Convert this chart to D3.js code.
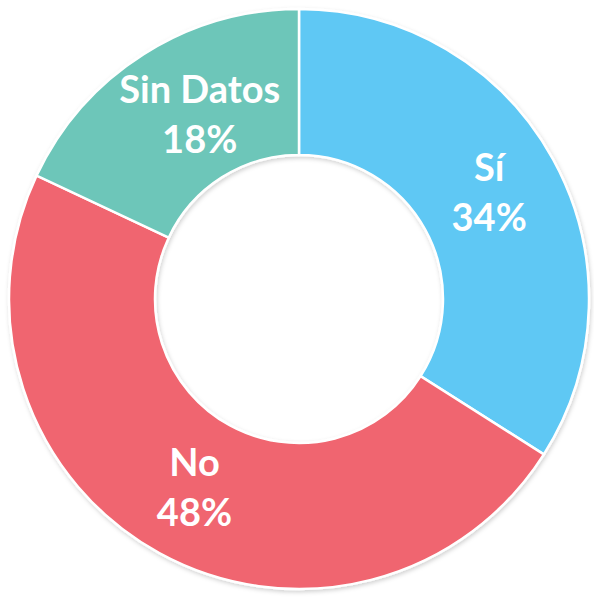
<!DOCTYPE html>
<html>
<head>
<meta charset="utf-8">
<script src="https://cdn.jsdelivr.net/npm/d3@7"></script>
<style>
  html, body { margin: 0; padding: 0; background: #ffffff; }
  svg { display: block; }
</style>
</head>
<body>
<svg id="chart"></svg>
<script>
const categories = ['Sí', 'No', 'Sin Datos'];
const values = [34, 48, 18];
const colors = ['#5ec8f4', '#f0656f', '#6dc6b9'];

const width = 594, height = 597;
const cx = 299, cy = 299;
const outer_radius = 290;
const inner_radius = 144;

const svg = d3.select('#chart')
    .attr('width', width)
    .attr('height', height);

const defs = svg.append('defs');
const shadow = defs.append('filter')
    .attr('id', 'shadow')
    .attr('x', '-10%').attr('y', '-10%')
    .attr('width', '120%').attr('height', '120%');
shadow.append('feDropShadow')
    .attr('dx', 1).attr('dy', 2)
    .attr('stdDeviation', 2)
    .attr('flood-color', '#000')
    .attr('flood-opacity', 0.18);

const chart = svg.append('g')
    .attr('transform', `translate(${cx}, ${cy})`);

const data = categories.map((c, i) => ({ label: c, value: values[i], color: colors[i] }));

const pie = d3.pie()
    .value(d => d.value)
    .sort(null);

const arc = d3.arc()
    .innerRadius(inner_radius)
    .outerRadius(outer_radius);

const label_arc = d3.arc()
    .innerRadius((inner_radius + outer_radius) / 2)
    .outerRadius((inner_radius + outer_radius) / 2);

const arcs = pie(data);

chart.append('g')
    .attr('filter', 'url(#shadow)')
    .selectAll('path')
    .data(arcs)
    .enter()
    .append('path')
    .attr('d', arc)
    .attr('fill', d => d.data.color)
    .attr('stroke', '#ffffff')
    .attr('stroke-width', 2.5);

// small nudge for the wide label, as in the original
const label_dx = { 'Sin Datos': 17 };

const labels = chart.selectAll('text.label')
    .data(arcs)
    .enter()
    .append('text')
    .attr('class', 'label')
    .attr('text-anchor', 'middle')
    .attr('fill', '#ffffff')
    .style('font-family', 'Lato, "Open Sans", sans-serif')
    .style('font-weight', 'bold')
    .style('font-size', '38px')
    .attr('transform', d => {
        const [x, y] = label_arc.centroid(d);
        return `translate(${x + (label_dx[d.data.label] || 0)}, ${y})`;
    });

labels.append('tspan')
    .attr('x', 0)
    .attr('y', -13)
    .text(d => d.data.label);

labels.append('tspan')
    .attr('x', 0)
    .attr('y', 37)
    .text(d => `${d.data.value}%`);
</script>
</body>
</html>
